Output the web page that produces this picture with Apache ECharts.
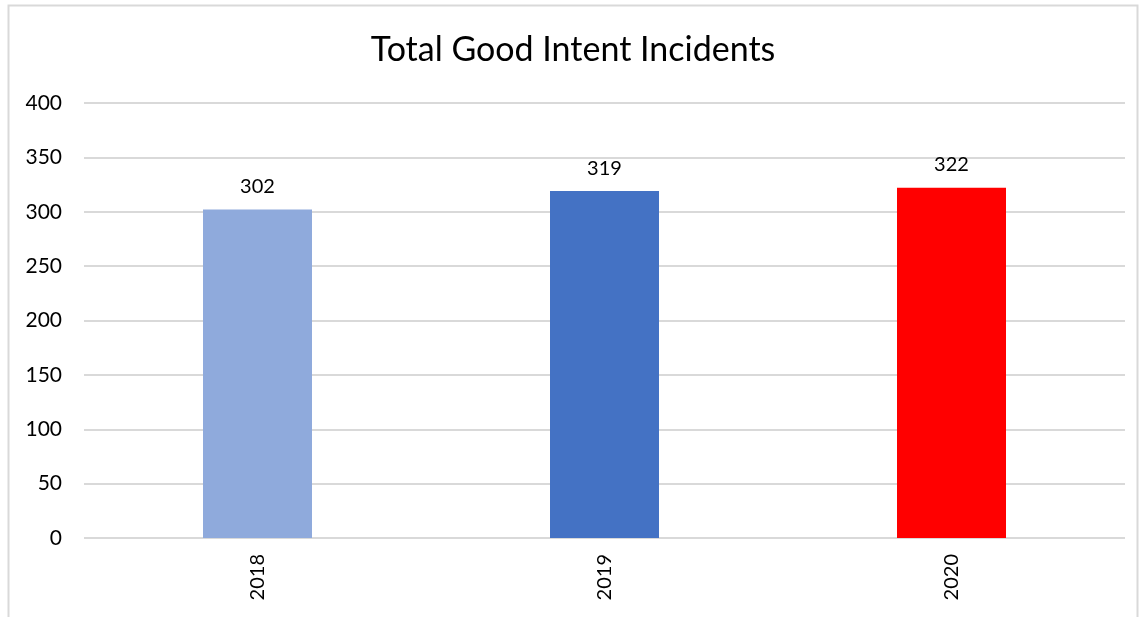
<!DOCTYPE html>
<html>
<head>
<meta charset="utf-8">
<script src="https://cdn.jsdelivr.net/npm/echarts@6/dist/echarts.min.js"></script>
<style>
  html, body { margin: 0; padding: 0; background: #fff; }
  #chart { width: 1146px; height: 617px; }
</style>
</head>
<body>
<div id="chart"></div>
<script>
// Yearly totals of good intent incidents
const years = ['2018', '2019', '2020'];
const incidents = [302, 319, 322];
const barColors = ['#8faadc', '#4472c4', '#ff0000'];
const yTicks = { min: 0, max: 400, interval: 50 };

const FONT = 'Lato, "Open Sans", sans-serif';

const chart = echarts.init(document.getElementById('chart'), null, { renderer: 'canvas' });
chart.setOption({
  backgroundColor: '#ffffff',
  animation: false,
  graphic: [{
    type: 'rect',
    shape: { x: 8.5, y: 5.5, width: 1129, height: 700 },
    style: { fill: 'none', stroke: '#d9d9d9', lineWidth: 2 },
    silent: true
  }],
  title: {
    text: 'Total Good Intent Incidents',
    left: 'center',
    top: 28,
    textStyle: { fontFamily: FONT, fontSize: 34, fontWeight: 'normal', color: '#000' }
  },
  grid: { left: 84, right: 21, top: 103, bottom: 79 },
  xAxis: {
    type: 'category',
    data: years,
    axisLine: { show: false },
    axisTick: { show: false },
    axisLabel: {
      rotate: 90,
      margin: 16,
      fontFamily: FONT,
      fontSize: 20,
      color: '#000'
    }
  },
  yAxis: {
    type: 'value',
    min: yTicks.min,
    max: yTicks.max,
    interval: yTicks.interval,
    axisLine: { show: false },
    axisTick: { show: false },
    splitLine: { lineStyle: { color: '#d9d9d9', width: 2 } },
    axisLabel: { margin: 22, fontFamily: FONT, fontSize: 21, color: '#000' }
  },
  series: [{
    type: 'bar',
    barWidth: 109,
    data: incidents.map((v, i) => ({ value: v, itemStyle: { color: barColors[i] } })),
    label: {
      show: true,
      position: 'top',
      distance: 13,
      fontFamily: FONT,
      fontSize: 20,
      color: '#000'
    }
  }]
});
</script>
</body>
</html>
